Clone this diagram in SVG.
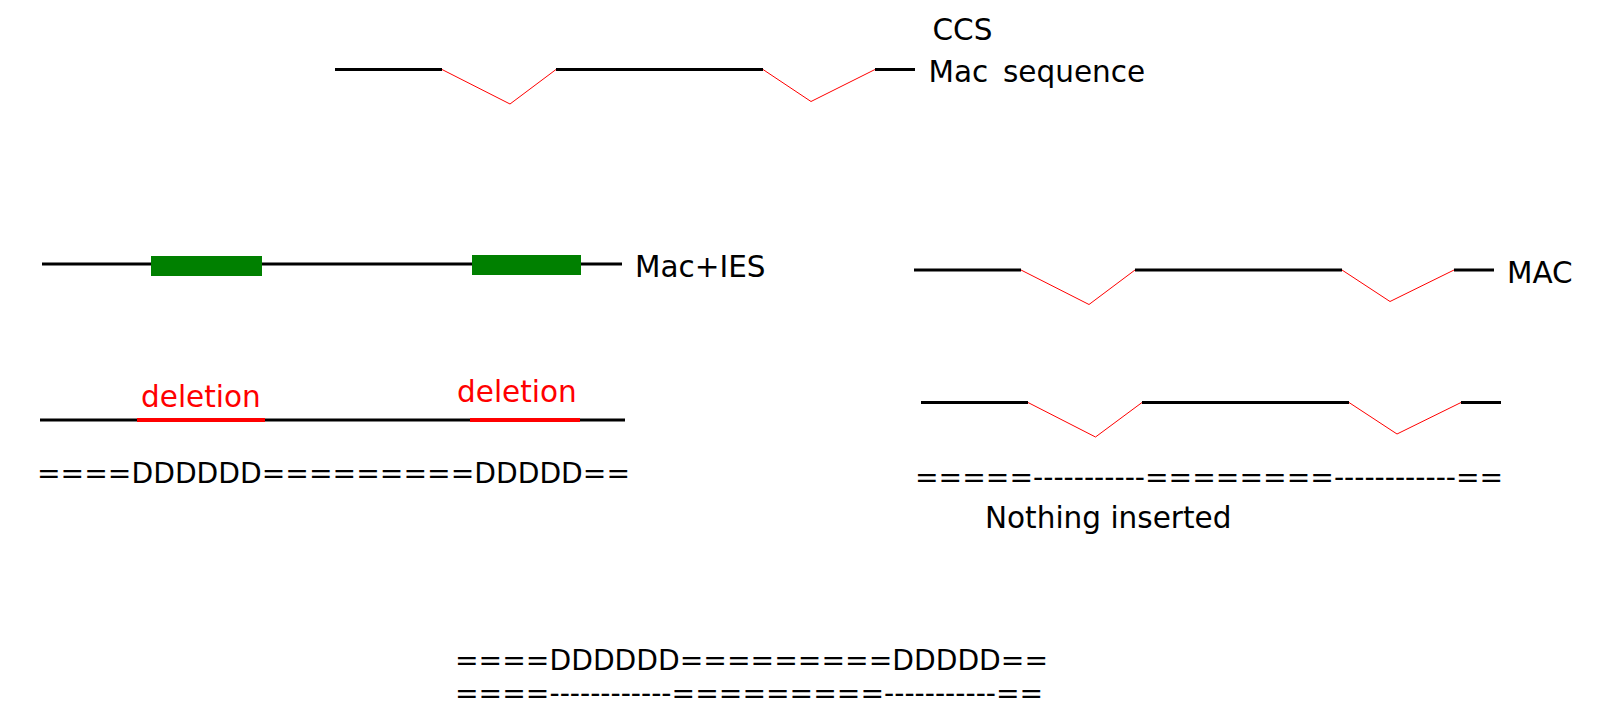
<svg xmlns="http://www.w3.org/2000/svg" width="1598" height="726" viewBox="0 0 1598 726">
<style>
.seq{stroke:#000;stroke-width:3;fill:none}
.cut{stroke:#ff0000;stroke-width:1;fill:none}
.del{stroke:#ff0000;stroke-width:4;fill:none}
.ies{fill:#008000}
.lbl{font-family:"DejaVu Sans",sans-serif;font-size:29.5px;fill:#000;white-space:pre}
.red{fill:#ff0000}
.code{font-family:"DejaVu Sans",sans-serif;font-size:28.2px;fill:#000;white-space:pre}
</style>
<rect width="1598" height="726" fill="#fff"/>
<g id="connectors">
  <g id="ccs-row">
    <line class="seq" x1="335" y1="69.5" x2="442" y2="69.5"/>
    <polyline class="cut" points="442,69.5 510,104 556,69.5"/>
    <line class="seq" x1="556" y1="69.5" x2="763" y2="69.5"/>
    <polyline class="cut" points="763,69.5 811,101.5 875,69.5"/>
    <line class="seq" x1="875" y1="69.5" x2="915" y2="69.5"/>
  </g>
  <g id="mac-row">
    <line class="seq" x1="914" y1="270" x2="1021" y2="270"/>
    <polyline class="cut" points="1021,270 1089,304.5 1135,270"/>
    <line class="seq" x1="1135" y1="270" x2="1342" y2="270"/>
    <polyline class="cut" points="1342,270 1390,301.5 1454,270"/>
    <line class="seq" x1="1454" y1="270" x2="1494" y2="270"/>
  </g>
  <g id="nothing-row">
    <line class="seq" x1="921" y1="402.5" x2="1028" y2="402.5"/>
    <polyline class="cut" points="1028,402.5 1095.5,437 1142,402.5"/>
    <line class="seq" x1="1142" y1="402.5" x2="1349" y2="402.5"/>
    <polyline class="cut" points="1349,402.5 1397,434 1461,402.5"/>
    <line class="seq" x1="1461" y1="402.5" x2="1501" y2="402.5"/>
  </g>
  <g id="macies-row">
    <line class="seq" x1="42" y1="264" x2="622" y2="264"/>
  </g>
  <g id="deletion-row">
    <line class="seq" x1="40" y1="420" x2="625" y2="420"/>
  </g>
</g>
<g id="node-ccs"><text class="lbl" x="932.5" y="40">CCS</text></g>
<g id="node-mac-sequence"><text class="lbl" x="928.5" y="82">Mac <tspan x="1003">sequence</tspan></text></g>
<g id="node-ies1"><rect class="ies" x="151" y="256" width="111" height="20"/></g>
<g id="node-ies2"><rect class="ies" x="472" y="255" width="109" height="20"/></g>
<g id="node-macies"><text class="lbl" x="635" y="277">Mac+IES</text></g>
<g id="node-MAC"><text class="lbl" x="1507" y="283">MAC</text></g>
<g id="node-del1"><line class="del" x1="137" y1="420" x2="265" y2="420"/><text class="lbl red" x="141" y="407">deletion</text></g>
<g id="node-del2"><line class="del" x1="470" y1="420" x2="580" y2="420"/><text class="lbl red" x="457" y="402">deletion</text></g>
<g id="node-code-left"><text class="code" x="37" y="483">====DDDDDD=========DDDDD==</text></g>
<g id="node-code-right"><text class="code" x="915" y="487">=====-----------========------------==</text></g>
<g id="node-nothing"><text class="lbl" x="985" y="528">Nothing inserted</text></g>
<g id="node-code-bottom">
  <text class="code" x="455" y="670">====DDDDDD=========DDDDD==</text>
  <text class="code" x="455" y="703">====------------=========-----------==</text>
</g>
</svg>
